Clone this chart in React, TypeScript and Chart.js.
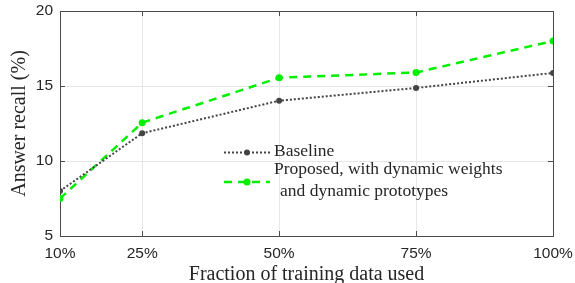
import React, { useEffect, useRef } from 'react';
import { Chart, registerables } from 'chart.js';
Chart.register(...registerables);

const xValues = [10, 25, 50, 75, 100];
const baselineValues = [8.0, 11.85, 14.02, 14.87, 15.87];
const proposedValues = [7.5, 12.55, 15.55, 15.9, 18.0];
const xTickValues = [10, 25, 50, 75, 100];
const yTickValues = [5, 10, 15, 20];
const seriesNames = ['Baseline', 'Proposed, with dynamic weights'];
const legendExtraLine = 'and dynamic prototypes';
const xTitle = 'Fraction of training data used';
const yTitle = 'Answer recall (%)';

const SERIF = '"Liberation Serif", "Times New Roman", serif';
const SANS = '"Liberation Sans", Arial, sans-serif';
const FRAME = '#4a4a4a';
const TEXT = '#262626';

const zeroPad = (s: any) => {
  s.paddingTop = 0;
  s.paddingBottom = 0;
  s.paddingLeft = 0;
  s.paddingRight = 0;
};

const framePlugin = {
  id: 'frame',
  beforeDatasetsDraw(chart: any) {
    const { ctx, chartArea: a, scales } = chart;
    ctx.save();
    ctx.strokeStyle = FRAME;
    ctx.lineWidth = 1;
    ctx.beginPath();
    const L = 5;
    xTickValues.forEach((v) => {
      const x = Math.round(scales.x.getPixelForValue(v)) + 0.5;
      ctx.moveTo(x, a.bottom);
      ctx.lineTo(x, a.bottom - L);
      ctx.moveTo(x, a.top);
      ctx.lineTo(x, a.top + L);
    });
    yTickValues.forEach((v) => {
      const y = Math.round(scales.y.getPixelForValue(v)) + 0.5;
      ctx.moveTo(a.left, y);
      ctx.lineTo(a.left + L, y);
      ctx.moveTo(a.right, y);
      ctx.lineTo(a.right - L, y);
    });
    ctx.stroke();
    ctx.strokeRect(Math.round(a.left) + 0.5, Math.round(a.top) + 0.5, Math.round(a.right - a.left), Math.round(a.bottom - a.top));
    ctx.restore();
  },
};

const legendPlugin = {
  id: 'innerLegend',
  afterDraw(chart: any) {
    const { ctx } = chart;
    const ds = chart.data.datasets;
    const x0 = 224;
    const x1 = 270;
    const rows = [
      { lineY: 152.5, textY: 151 },
      { lineY: 182, textY: 169 },
    ];
    ctx.save();
    ds.forEach((d: any, i: number) => {
      const r = rows[i];
      ctx.strokeStyle = d.borderColor;
      ctx.lineWidth = d.borderWidth;
      ctx.setLineDash(d.borderDash || []);
      ctx.beginPath();
      ctx.moveTo(x0, r.lineY);
      ctx.lineTo(x1, r.lineY);
      ctx.stroke();
      ctx.setLineDash([]);
      ctx.fillStyle = d.pointBackgroundColor;
      ctx.beginPath();
      ctx.arc((x0 + x1) / 2, r.lineY, d.pointRadius, 0, Math.PI * 2);
      ctx.fill();
      ctx.fillStyle = TEXT;
      ctx.font = `17.5px ${SERIF}`;
      ctx.textBaseline = 'middle';
      ctx.textAlign = 'left';
      ctx.fillText(d.label, 274, r.textY);
    });
    ctx.fillText(legendExtraLine, 280, 191);
    ctx.restore();
  },
};

export default function App() {
  const ref = useRef<HTMLCanvasElement>(null);
  useEffect(() => {
    document.body.style.margin = '0';
    const canvas = ref.current!;
    const chart = new Chart(canvas, {
      type: 'line',
      data: {
        datasets: [
          {
            label: seriesNames[0],
            data: xValues.map((x, i) => ({ x, y: baselineValues[i] })),
            borderColor: '#444444',
            backgroundColor: '#444444',
            pointBackgroundColor: '#444444',
            borderWidth: 2,
            borderDash: [2, 2],
            pointRadius: 3,
            pointBorderWidth: 0,
            tension: 0,
          },
          {
            label: seriesNames[1],
            data: xValues.map((x, i) => ({ x, y: proposedValues[i] })),
            borderColor: '#00f000',
            backgroundColor: '#00f000',
            pointBackgroundColor: '#00f000',
            borderWidth: 2.5,
            borderDash: [8, 6],
            pointRadius: 3.5,
            pointBorderWidth: 0,
            tension: 0,
          },
        ],
      },
      options: {
        responsive: false,
        animation: false,
        devicePixelRatio: 1,
        layout: { padding: { top: 11, right: 22, left: 0, bottom: 0 } },
        plugins: { legend: { display: false }, tooltip: { enabled: false } },
        scales: {
          x: {
            type: 'linear',
            min: 10,
            max: 100,
            afterBuildTicks: (s: any) => {
              s.ticks = xTickValues.map((v) => ({ value: v }));
            },
            afterFit: (s: any) => {
              s.height = 47;
              zeroPad(s);
            },
            grid: { color: '#e6e6e6', lineWidth: 1, drawTicks: false },
            border: { display: false },
            ticks: {
              padding: 8,
              color: TEXT,
              font: { family: SANS, size: 15.5 },
              callback: (v: any) => `${v}%`,
              maxRotation: 0,
            },
            title: {
              display: true,
              text: xTitle,
              color: TEXT,
              font: { family: SERIF, size: 20, lineHeight: 1 },
              padding: { top: 0, bottom: -2 },
            },
          },
          y: {
            type: 'linear',
            min: 5,
            max: 20,
            afterBuildTicks: (s: any) => {
              s.ticks = yTickValues.map((v) => ({ value: v }));
            },
            afterFit: (s: any) => {
              s.width = 60;
              zeroPad(s);
            },
            grid: { color: '#e6e6e6', lineWidth: 1, drawTicks: false },
            border: { display: false },
            ticks: {
              padding: 7,
              color: TEXT,
              font: { family: SANS, size: 15.5 },
            },
            title: {
              display: true,
              text: yTitle,
              color: TEXT,
              font: { family: SERIF, size: 20, lineHeight: 1 },
              padding: { top: 10, bottom: 0 },
            },
          },
        },
      },
      plugins: [framePlugin, legendPlugin],
    } as any);
    return () => chart.destroy();
  }, []);
  return (
    <div style={{ position: 'relative', width: 575, height: 283, background: '#fff' }}>
      <canvas ref={ref} width={575} height={283} style={{ display: 'block' }} />
    </div>
  );
}
